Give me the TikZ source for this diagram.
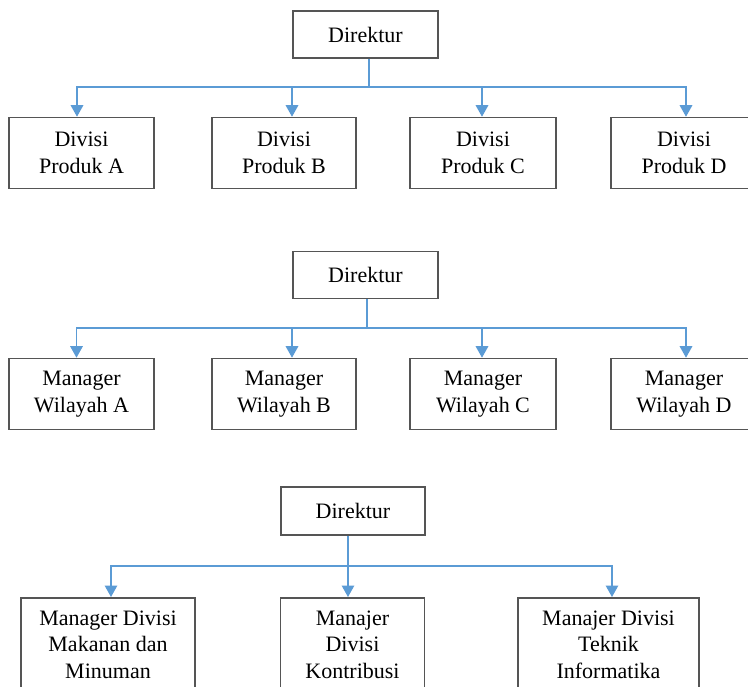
\documentclass[tikz,border=0pt]{standalone}
\usepackage{fontspec}
\setmainfont{Liberation Serif}
\usetikzlibrary{arrows.meta}
\definecolor{boxline}{HTML}{555555}
\definecolor{linkblue}{HTML}{5B9BD5}
\begin{document}
\begin{tikzpicture}[x=1pt,y=-1pt,
  orgbox/.style={draw=boxline,line width=1.6pt,inner sep=0pt,align=center,
    font=\fontsize{22}{26.5}\selectfont},
  bus/.style={draw=linkblue,line width=1.5pt},
  drop/.style={bus,-{Triangle[width=12.5pt,length=11.5pt]}}]
\useasboundingbox (0,0) rectangle (748,687);
\fill[white] (0,0) rectangle (748,687);
\clip (0,0) rectangle (748,687);

% ---- chart 1: product divisions ----
\node[orgbox,minimum width=145pt,minimum height=47pt] (d1) at (365.5,34.5) {Direktur};
\node[orgbox,minimum width=145pt,minimum height=71pt] (p1) at (81.5,153) {Divisi\\Produk A};
\node[orgbox,minimum width=144pt,minimum height=71pt] (p2) at (284,153) {Divisi\\Produk B};
\node[orgbox,minimum width=146pt,minimum height=71pt] (p3) at (483,153) {Divisi\\Produk C};
\node[orgbox,minimum width=146pt,minimum height=71pt] (p4) at (684,153) {Divisi\\Produk D};
\coordinate (h1) at (369,87);
\draw[bus] (d1.south -| h1) -- (h1);
\draw[drop] (h1) -| ([xshift=-4.5pt]p1.north);
\draw[drop] (h1) -| ([xshift=8pt]p2.north);
\draw[drop] (h1) -| ([xshift=-1pt]p3.north);
\draw[drop] (h1) -| ([xshift=2pt]p4.north);

% ---- chart 2: regional managers ----
\node[orgbox,minimum width=145pt,minimum height=47pt] (d2) at (365.5,275) {Direktur};
\node[orgbox,minimum width=145pt,minimum height=71pt] (w1) at (81.5,394) {Manager\\Wilayah A};
\node[orgbox,minimum width=144pt,minimum height=71pt] (w2) at (284,394) {Manager\\Wilayah B};
\node[orgbox,minimum width=146pt,minimum height=71pt] (w3) at (483,394) {Manager\\Wilayah C};
\node[orgbox,minimum width=146pt,minimum height=71pt] (w4) at (684,394) {Manager\\Wilayah D};
\coordinate (h2) at (367,328);
\draw[bus] (d2.south -| h2) -- (h2);
\draw[drop] (h2) -| ([xshift=-5pt]w1.north);
\draw[drop] (h2) -| ([xshift=8pt]w2.north);
\draw[drop] (h2) -| ([xshift=-1pt]w3.north);
\draw[drop] (h2) -| ([xshift=2pt]w4.north);

% ---- chart 3: functional divisions ----
\node[orgbox,minimum width=144pt,minimum height=48pt] (d3) at (353,511) {Direktur};
\node[orgbox,minimum width=174pt,minimum height=94pt,anchor=north] (m1) at (108,597) {Manager Divisi\\Makanan dan\\Minuman};
\node[orgbox,minimum width=144pt,minimum height=94pt,anchor=north] (m2) at (352.5,597) {Manajer\\Divisi\\Kontribusi};
\node[orgbox,minimum width=181pt,minimum height=94pt,anchor=north] (m3) at (608.5,597) {Manajer Divisi\\Teknik\\Informatika};
\coordinate (h3) at (348,566);
\draw[bus] (d3.south -| h3) -- (h3);
\draw[drop] (h3) -| ([xshift=3pt]m1.north);
\draw[drop] (h3) -- (m2.north -| h3);
\draw[drop] (h3) -| ([xshift=3.5pt]m3.north);
\end{tikzpicture}
\end{document}
